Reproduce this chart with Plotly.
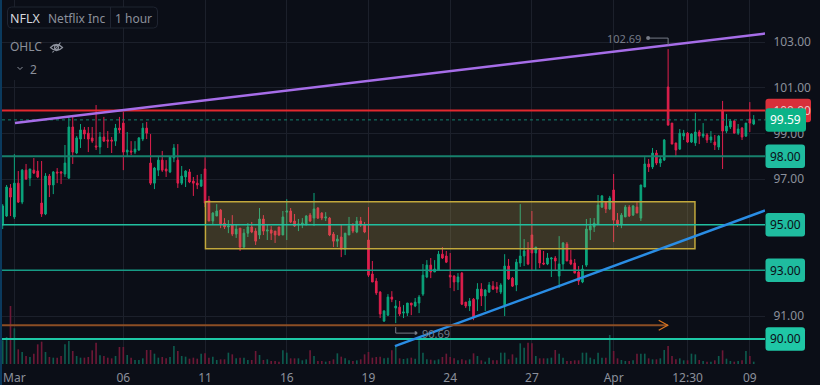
import plotly.graph_objects as go

TICKER = "NFLX"
opens = [94.99,95.38,96.61,95.34,96.82,95.99,97.39,97.04,97.39,97.35,95.95,95.47,97.13,96.74,97.31,97.31,97.22,97.04,99.28,98.14,
98.75,99.15,99.01,98.80,98.45,98.40,98.84,98.71,98.71,98.66,99.23,99.45,98.18,98.23,98.18,98.27,98.75,99.23,97.70,96.82,
97.39,97.83,97.44,97.31,97.92,97.83,96.82,97.09,97.31,96.91,96.82,96.69,97.44,96.08,95.16,95.38,95.64,95.07,94.90,94.99,
94.59,94.85,94.02,94.63,94.90,94.72,94.55,95.25,94.72,94.77,94.72,94.90,94.55,95.55,95.60,95.16,94.99,95.03,94.99,95.42,
95.29,95.73,95.51,95.29,95.29,94.59,94.28,94.46,93.93,94.55,94.99,94.68,95.16,94.99,94.33,92.84,92.53,92.05,90.78,91.04,
91.83,91.35,91.39,91.13,91.13,91.57,91.44,91.57,91.96,92.71,93.23,92.93,93.01,93.71,93.63,92.79,92.75,92.49,92.88,91.61,
91.44,91.74,91.74,92.18,91.88,92.05,92.31,92.27,92.05,91.48,93.19,92.66,92.36,93.32,93.63,93.89,94.55,93.76,93.89,93.32,
93.28,93.50,93.54,92.75,93.28,94.15,93.45,93.32,92.93,92.49,93.23,94.77,94.90,95.03,95.77,95.99,95.69,96.52,95.20,94.99,
95.34,95.77,95.42,95.77,95.29,96.65,97.66,97.53,98.14,97.70,97.83,101.03,99.45,98.58,98.31,98.88,99.01,98.62,98.58,99.06,
98.88,98.93,98.71,98.62,98.40,100.02,99.10,99.28,99.54,99.01,99.23,98.88,99.63,99.41]
highs = [95.90,96.74,96.78,98.09,97.35,97.44,97.66,97.44,97.92,97.79,97.79,97.26,97.22,97.35,97.48,97.35,98.49,99.72,99.72,98.88,
99.41,99.28,99.28,99.28,100.24,99.06,99.72,99.10,98.84,99.41,99.72,99.93,99.06,98.66,98.66,98.84,99.45,99.50,98.97,97.53,
98.01,98.23,97.83,98.01,98.53,98.53,97.57,97.39,97.44,97.09,97.18,97.22,97.96,96.26,95.55,95.90,95.69,95.29,95.20,95.42,
94.99,94.85,94.81,95.07,95.12,94.85,95.73,95.42,94.99,94.94,94.72,94.90,95.60,96.12,95.73,95.47,95.25,95.29,95.42,95.51,
96.39,95.77,95.55,95.55,95.34,94.68,94.55,94.99,94.63,95.34,95.07,95.34,95.34,95.12,95.77,93.41,92.66,92.09,91.26,91.96,
92.09,91.70,91.66,91.48,91.57,91.57,91.79,91.92,93.28,93.45,93.54,93.45,93.85,94.02,93.85,93.76,92.79,92.88,92.93,91.61,
91.79,91.79,92.44,92.44,92.18,92.49,92.53,92.49,92.44,93.71,93.50,92.71,93.50,95.90,94.37,94.24,95.60,94.02,93.98,93.85,
93.76,93.58,93.63,94.50,94.24,94.24,93.89,93.50,93.19,93.23,95.25,95.29,95.29,96.30,96.30,95.99,96.26,97.22,95.51,95.51,
95.86,95.86,95.86,95.99,96.74,97.96,97.88,98.36,98.27,97.96,98.75,102.69,99.45,98.58,99.19,99.15,99.06,99.01,99.89,99.15,
99.45,99.01,99.10,98.93,98.93,100.42,99.85,99.63,99.58,99.41,99.28,99.45,100.37,99.80]
lows = [94.81,95.34,95.38,95.25,95.95,95.90,96.96,96.69,97.22,97.04,95.34,95.42,96.21,96.34,96.82,96.78,97.09,97.00,97.66,98.09,
98.36,98.75,98.18,98.58,98.27,98.09,98.62,98.36,98.14,98.45,99.01,97.39,97.96,98.05,98.09,98.23,98.66,98.75,96.74,96.56,
97.13,97.31,97.09,97.26,97.74,96.61,96.74,96.65,96.82,96.26,96.56,96.65,95.77,95.16,95.03,95.38,94.85,94.81,94.63,94.50,
94.42,93.85,93.98,94.46,94.63,94.11,94.37,94.55,94.33,94.33,94.20,94.50,94.55,94.33,95.07,94.90,94.72,94.85,94.99,95.12,
94.94,95.25,95.20,95.16,94.50,94.02,94.02,93.58,93.67,94.55,94.63,94.63,94.90,94.63,92.71,92.49,91.92,90.91,90.74,91.00,
91.61,90.69,91.00,90.91,91.00,91.04,91.39,91.13,91.88,92.66,92.66,92.93,93.01,93.50,93.32,92.23,92.09,92.14,91.48,91.35,
91.22,90.82,91.22,91.44,91.22,92.01,92.14,92.01,91.96,91.00,92.58,92.27,92.09,93.15,93.19,93.23,93.01,93.01,93.10,93.23,
93.23,92.71,93.01,92.23,93.01,93.41,93.23,92.88,92.36,92.44,93.15,94.33,94.68,95.03,95.73,95.51,95.64,94.24,94.90,94.85,
95.34,95.34,95.38,95.51,95.16,96.65,97.31,97.44,97.61,97.53,97.79,99.36,98.53,97.96,98.27,98.71,98.58,98.58,98.45,98.53,
98.80,98.58,98.58,98.27,98.27,97.44,99.01,99.19,99.01,98.93,98.71,98.84,99.06,99.36]
closes = [95.82,96.65,96.21,96.82,95.99,97.39,97.00,97.44,97.26,97.09,95.47,97.13,96.74,97.31,97.26,97.26,97.70,99.28,98.18,98.80,
99.15,98.97,98.75,98.66,98.40,98.84,98.66,98.66,98.66,99.23,99.15,98.18,98.27,98.18,98.31,98.80,99.23,99.01,96.82,97.48,
97.83,97.39,97.35,97.96,98.36,96.82,97.13,97.35,96.87,96.82,96.74,96.96,95.95,95.16,95.51,95.60,95.03,94.90,94.94,94.59,
94.81,94.02,94.63,94.90,94.68,94.28,95.25,94.72,94.77,94.63,94.55,94.55,95.34,95.60,95.12,94.94,95.03,95.07,95.38,95.16,
95.69,95.29,95.29,95.34,94.55,94.28,94.37,93.93,94.63,94.94,94.72,95.16,94.99,94.68,92.79,92.49,92.01,91.09,91.22,91.83,
91.74,91.44,91.09,91.18,91.57,91.48,91.61,91.83,92.79,93.23,92.93,93.06,93.71,93.54,93.36,92.71,92.49,92.71,91.52,91.44,
91.66,90.95,92.18,91.88,92.14,92.36,92.18,92.18,92.36,93.19,92.62,92.31,93.36,93.63,93.85,93.28,93.76,94.02,93.32,93.28,
93.54,93.54,93.41,93.28,94.20,93.41,93.28,92.88,92.53,93.06,94.81,94.94,95.07,95.86,96.26,95.69,96.17,95.20,95.03,95.42,
95.77,95.38,95.82,95.51,96.74,97.66,97.53,98.14,97.70,97.88,98.71,99.36,98.53,98.27,99.01,99.01,98.62,98.97,99.06,98.88,
98.97,98.71,98.84,98.49,98.88,99.10,99.32,99.54,99.01,99.19,98.84,99.45,99.45,99.59]
volumes = [71,81,174,107,44,36,24,21,31,59,67,36,21,19,19,24,59,69,39,24,19,19,21,41,64,26,24,19,17,24,51,51,27,19,12,12,17,42,42,31,
19,21,17,21,54,39,24,22,16,19,16,31,32,19,22,12,14,14,34,29,17,19,19,12,12,39,27,12,14,9,9,7,41,34,17,17,17,11,14,41,
24,9,9,7,9,14,32,22,17,11,9,11,14,29,36,19,21,22,17,19,41,52,17,15,17,19,16,71,34,14,13,11,14,21,31,21,17,11,14,11,
14,32,24,11,7,19,11,11,34,34,14,29,19,62,49,64,62,24,17,17,17,19,42,31,19,9,9,11,11,34,34,19,14,34,19,19,87,39,17,12,
9,9,11,31,31,31,17,14,14,17,42,54,24,14,17,11,11,31,29,12,9,7,7,11,24,41,16,9,7,9,11,39,24,7]

tick_bars = [3,31,52,73,94,115,136,157,176,192]
tick_names = ["Mar","06","11","16","19","24","27","Apr","12:30","09"]
price_ticks = [91,97,99,100,101,103]
support_levels = [98.00,95.00,93.00,90.00]
resistance = 100.00
last_price = closes[-1]
purple_x, purple_y = [3.15,195.9], [99.45,103.37]
blue_x, blue_y = [100.8,195.9], [89.68,95.62]
box_x, box_y = [52.1,177.9], [96.0,93.95]
arrow_x, arrow_y = 171, 90.6

BG="#0b0e17"; GRID="#1c202b"; TXT="#8b909b"; UP="#0ba67d"; DN="#e01f4d"
W, H, ML, MR, MB = 820, 385, 2, 55, 21
PW, PH = W-ML-MR, H-MB
def px(x): return (x-ML)/PW
def py(y): return 1-y/PH
def rr(w,h,r):
    return (f"M {r} 0 L {w-r} 0 Q {w} 0 {w} {r} L {w} {h-r} Q {w} {h} {w-r} {h} "
            f"L {r} {h} Q 0 {h} 0 {h-r} L 0 {r} Q 0 0 {r} 0 Z")

fig = go.Figure()
fig.add_trace(go.Candlestick(x=list(range(len(opens))), open=opens, high=highs, low=lows, close=closes,
    increasing=dict(line=dict(color=UP,width=1), fillcolor=UP),
    decreasing=dict(line=dict(color=DN,width=1), fillcolor=DN),
    whiskerwidth=0, hoverinfo="skip", showlegend=False))
fig.add_trace(go.Bar(x=list(range(len(opens))), y=volumes, yaxis="y2", width=0.42, hoverinfo="skip", showlegend=False,
    marker=dict(line=dict(width=0), color=["#0d5b4e" if c>=o else "#6d1836" for o,c in zip(opens,closes)])))

shapes=[]
def hl(v,color,width,dash="solid"):
    shapes.append(dict(type="line",xref="paper",x0=0,x1=1,yref="y",y0=v,y1=v,line=dict(color=color,width=width,dash=dash),layer="above"))
def badge_path(w,h,r):
    t=h/2; b=-h/2
    return (f"M 0.5 {b+r} Q 0.5 {b} {r+0.5} {b} L {w-r} {b} Q {w} {b} {w} {b+r} L {w} {t-r} Q {w} {t} {w-r} {t} "
            f"L {r+0.5} {t} Q 0.5 {t} 0.5 {t-r} Z")
def badge(v,w,fill,layer="above"):
    shapes.append(dict(type="path",xref="paper",yref="y",xsizemode="pixel",ysizemode="pixel",xanchor=1,yanchor=v,
        path=badge_path(w,23.5,3),fillcolor=fill,line=dict(width=0),layer=layer))

# left strip
shapes.append(dict(type="rect",xref="paper",yref="paper",x0=px(0),x1=px(2),y0=py(385),y1=1,fillcolor="#0b3a5e",line=dict(width=0),layer="below"))
# red badge under tick label
badge(resistance,46,"#d8303a",layer="below")
# box
shapes.append(dict(type="rect",xref="x",yref="y",x0=box_x[0],x1=box_x[1],y0=box_y[0],y1=box_y[1],
    fillcolor="rgba(196,170,80,0.26)",line=dict(color="#c2a83c",width=1.5),layer="above"))
# levels
hl(resistance,"#e3282f",2)
hl(last_price,"#12806c",1,"dot")
hl(98,"#17806c",2)
hl(95,"#21bfa0",1.5)
hl(93,"#179a85",1.5)
hl(90,"#1dc8a6",2)
# trendlines
shapes.append(dict(type="line",xref="x",yref="y",x0=purple_x[0],x1=purple_x[1],y0=purple_y[0],y1=purple_y[1],line=dict(color="#a66de8",width=2.5),layer="above"))
shapes.append(dict(type="line",xref="x",yref="y",x0=blue_x[0],x1=blue_x[1],y0=blue_y[0],y1=blue_y[1],line=dict(color="#2a8de4",width=2.5),layer="above"))
# orange arrow
shapes.append(dict(type="line",xref="x",yref="y",x0=-0.18,x1=arrow_x-0.1,y0=arrow_y,y1=arrow_y,line=dict(color="#8c4e24",width=2),layer="above"))
shapes.append(dict(type="path",xref="x",yref="y",xsizemode="pixel",ysizemode="pixel",xanchor=arrow_x-0.1,yanchor=arrow_y,
    path="M -9 5 L 0 0 L -9 -5",line=dict(color="#d9751f",width=1.2),layer="above"))
# leader lines
shapes.append(dict(type="path",xref="x",yref="y",xsizemode="pixel",ysizemode="pixel",xanchor=171,yanchor=highs[171],
    path="M 0 4 L 0 11 L -20 11",line=dict(color="#767b87",width=1),layer="above"))
shapes.append(dict(type="path",xref="x",yref="y",xsizemode="pixel",ysizemode="pixel",xanchor=171,yanchor=highs[171],
    path="M -22 11 Q -22 13 -20 13 Q -18 13 -18 11 Q -18 9 -20 9 Q -22 9 -22 11 Z",fillcolor="#767b87",line=dict(width=0),layer="above"))
shapes.append(dict(type="path",xref="x",yref="y",xsizemode="pixel",ysizemode="pixel",xanchor=101,yanchor=lows[101],
    path="M 0 -4 L 0 -10 L 20 -10",line=dict(color="#767b87",width=1),layer="above"))
shapes.append(dict(type="path",xref="x",yref="y",xsizemode="pixel",ysizemode="pixel",xanchor=101,yanchor=lows[101],
    path="M 19 -8 Q 21 -8 22 -10 Q 21 -12 19 -12 Z",fillcolor="#767b87",line=dict(width=0),layer="above"))
# right-side badges
badge(98,40,"#1fbc9f"); badge(95,40,"#1fbc9f"); badge(93,40,"#1fbc9f"); badge(90,40,"#1fc7a6")
badge(last_price,41,"#0cb388")
# legend panels
shapes.append(dict(type="rect",xref="paper",yref="paper",x0=px(7),x1=px(70),y0=py(80),y1=py(43),fillcolor=BG,line=dict(width=0),layer="above"))
shapes.append(dict(type="rect",xref="paper",yref="paper",x0=px(7),x1=px(70),y0=py(40),y1=py(28),fillcolor=BG,line=dict(width=0),layer="above"))
shapes.append(dict(type="path",xref="paper",yref="paper",xsizemode="pixel",ysizemode="pixel",xanchor=px(7.5),yanchor=py(28),
    path=rr(150,21,4),fillcolor=BG,line=dict(color="#1f2431",width=1),layer="above"))
shapes.append(dict(type="line",xref="paper",yref="paper",x0=px(110.5),x1=px(110.5),y0=py(28),y1=py(7),line=dict(color="#1f2431",width=1),layer="above"))
# eye icon
shapes.append(dict(type="path",xref="paper",yref="paper",xsizemode="pixel",ysizemode="pixel",xanchor=px(50.5),yanchor=py(47.5),
    path="M 0 0 Q 6 6 12 0 Q 6 -6 0 0 Z M 4 0 Q 4 2 6 2 Q 8 2 8 0 Q 8 -2 6 -2 Q 4 -2 4 0 Z M 2 -5 L 10 5",line=dict(color=TXT,width=1.2),layer="above"))
# chevron
shapes.append(dict(type="path",xref="paper",yref="paper",xsizemode="pixel",ysizemode="pixel",xanchor=px(17.5),yanchor=py(68),
    path="M 0 1 L 2.5 -1.5 L 5 1",line=dict(color=TXT,width=1),layer="above"))

FONT="Noto Sans"
anns=[]
def txt(x,y,s,color,size=12):
    anns.append(dict(xref="paper",yref="paper",x=px(x),y=py(y),text=s,showarrow=False,xanchor="left",yanchor="middle",
        font=dict(family=FONT,size=size,color=color),borderpad=0))
txt(9,18,TICKER,"#d6d8de",12.5)
txt(47,18,"Netflix Inc",TXT,12)
txt(113.5,18,"1 hour",TXT,12)
txt(9,47,"OHLC",TXT,12)
txt(28.5,69.5,"2",TXT,12)
def btxt(v,color):
    anns.append(dict(xref="paper",yref="y",x=1,y=v,xshift=4,text=f"{v:.2f}",showarrow=False,xanchor="left",yanchor="middle",
        font=dict(family=FONT,size=12,color=color),borderpad=0))
for lv in support_levels: btxt(lv,"#0b0e17")
btxt(last_price,"#ffffff")
anns.append(dict(xref="x",yref="y",x=171,y=highs[171],yshift=11,xshift=-62,text=f"{highs[171]:.2f}",showarrow=False,xanchor="left",yanchor="middle",font=dict(family=FONT,size=11,color="#767b87"),borderpad=0))
anns.append(dict(xref="x",yref="y",x=101,y=lows[101],yshift=-10,xshift=25,text=f"{lows[101]:.2f}",showarrow=False,xanchor="left",yanchor="middle",font=dict(family=FONT,size=11,color="#767b87"),borderpad=0))

fig.update_layout(width=W,height=H,margin=dict(l=ML,r=MR,t=0,b=MB,pad=0),paper_bgcolor=BG,plot_bgcolor=BG,
    boxgap=0.4,bargap=0.5,showlegend=False,dragmode=False,shapes=shapes,annotations=anns,font=dict(family=FONT,size=12,color=TXT),
    xaxis=dict(range=[-0.18,195.9],rangeslider=dict(visible=False),tickmode="array",tickvals=tick_bars,ticktext=tick_names,
        showgrid=True,gridcolor=GRID,gridwidth=1,zeroline=False,showline=False,ticks="outside",ticklen=3,tickcolor=BG,
        tickfont=dict(family=FONT,size=12,color=TXT)),
    yaxis=dict(side="right",range=[88.9,104.84],tickmode="array",tickvals=price_ticks,
        ticktext=[f'<span style="color:#f2c6c9">{v:.2f}</span>' if v==resistance else f"{v:.2f}" for v in price_ticks],
        showgrid=True,gridcolor=GRID,gridwidth=1,zeroline=False,showline=False,ticks="outside",ticklen=5,tickcolor=BG,
        tickfont=dict(family=FONT,size=12,color=TXT)),
    yaxis2=dict(overlaying="y",side="left",range=[0,1092],visible=False,showgrid=False,fixedrange=True))

fig.write_html("out.html",config=dict(displayModeBar=False,staticPlot=True),
    post_script="document.body.style.margin='0';document.body.style.background='#0b0e17';")
